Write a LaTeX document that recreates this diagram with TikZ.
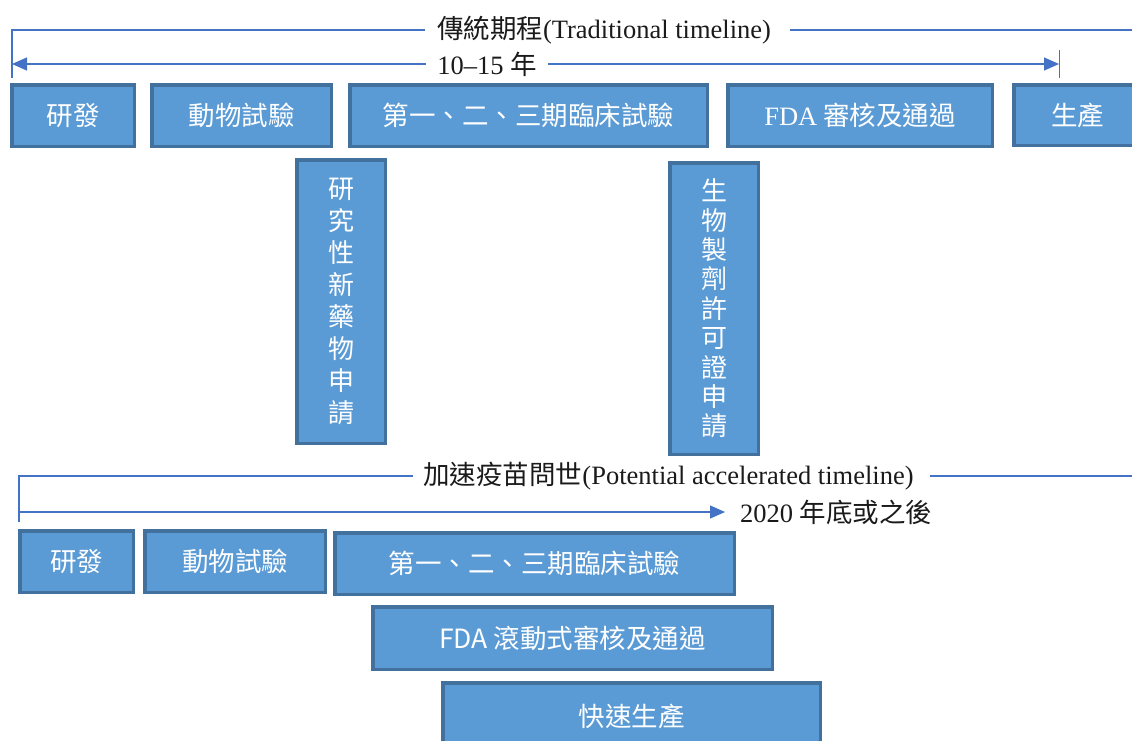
\documentclass[tikz,border=0pt]{standalone}
\usepackage{fontspec}
\setmainfont{Liberation Serif}
\newfontfamily\cjk{Noto Sans CJK TC}
\usetikzlibrary{arrows.meta}
\definecolor{boxfill}{HTML}{5B9BD5}
\definecolor{boxedge}{HTML}{41719C}
\definecolor{tline}{HTML}{4472C4}
\definecolor{ink}{HTML}{1A1A1A}
\tikzset{
  stagebox/.style={draw=boxedge, fill=boxfill, line width=3.5pt, text=white,
    inner sep=0pt, font=\cjk\fontsize{26.5}{30}\selectfont},
  tl/.style={draw=tline, line width=1.3pt},
  tip/.style={-{Triangle[length=15pt,width=13pt]}},
  labeltext/.style={font=\fontsize{26.5}{30}\selectfont, text=ink, inner ysep=0pt},
}
\begin{document}
\begin{tikzpicture}[x=1pt,y=-1pt]
\useasboundingbox (0,0) rectangle (1132,740);
\clip (0,0) rectangle (1132,740);

% ---- traditional timeline ----
\node[labeltext, inner xsep=12pt] (trad) at (604,30) {{\cjk 傳統期程}(Traditional timeline)};
\node[labeltext, inner xsep=11pt] (yrs) at (487,64) {10–15 {\cjk 年}};
\coordinate (tTop) at (12,30);
\coordinate (tBot) at (12,78);
\coordinate (tRight) at (1140,30);
\coordinate (aL) at (12,64);
\coordinate (aR) at (1059,64);
\coordinate (tickT) at (1059,50);
\coordinate (tickB) at (1059,78);
\draw[tl] (tBot) -- (tTop) -- (trad.west);
\draw[tl] ([xshift=7pt]trad.east) -- (tRight);
\draw[tl, tip] (yrs.west) -- (aL);
\draw[tl, tip] (yrs.east) -- (aR);
\draw[tl, line width=1pt] (tickT) -- (tickB);

% ---- top boxes ----
\node[stagebox, minimum width=122.5pt, minimum height=61.5pt] (rd1) at (73,115.5) {研發};
\node[stagebox, minimum width=179.5pt, minimum height=61.5pt] (an1) at (241.5,115.5) {動物試驗};
\node[stagebox, minimum width=357.5pt, minimum height=61.5pt] (cl1) at (528.5,115.5) {第一、二、三期臨床試驗};
\node[stagebox, minimum width=264.5pt, minimum height=61.5pt] (fda1) at (860,115.5) {{\rmfamily FDA} 審核及通過};
\node[stagebox, minimum width=127.5pt, minimum height=60.5pt] (pr1) at (1077.5,115) {生產};

% ---- vertical boxes ----
\node[stagebox, minimum width=88.5pt, minimum height=283.5pt, align=center,
  font=\cjk\fontsize{26}{31.9}\selectfont] (ind) at (341,301.5)
  {研\\究\\性\\新\\藥\\物\\申\\請};
\node[stagebox, minimum width=88.5pt, minimum height=291.5pt, align=center,
  font=\cjk\fontsize{26}{29.4}\selectfont] (bla) at (714,308.5)
  {生\\物\\製\\劑\\許\\可\\證\\申\\請};

% ---- accelerated timeline ----
\node[labeltext, inner xsep=10pt] (acc) at (668.5,476) {{\cjk 加速疫苗問世}(Potential accelerated timeline)};
\coordinate (bTop) at (19,476);
\coordinate (bBot) at (19,522);
\coordinate (bRight) at (1140,476);
\coordinate (bL) at (19,512);
\coordinate (bR) at (725,512);
\draw[tl] (bBot) -- (bTop) -- (acc.west);
\draw[tl] ([xshift=6pt]acc.east) -- (bRight);
\draw[tl, tip] (bL) -- (bR);
\node[labeltext, anchor=west, inner xsep=0pt] (end) at (740,512) {2020 {\cjk 年底或之後}};

% ---- bottom boxes ----
\node[stagebox, minimum width=113.5pt, minimum height=61.5pt] (rd2) at (76.5,561.5) {研發};
\node[stagebox, minimum width=180.5pt, minimum height=61.5pt] (an2) at (235,561.5) {動物試驗};
\node[stagebox, minimum width=399.5pt, minimum height=61.5pt] (cl2) at (534.5,563.5) {第一、二、三期臨床試驗};
\node[stagebox, minimum width=399.5pt, minimum height=62.5pt] (fda2) at (572.5,638) {FDA 滾動式審核及通過};
\node[stagebox, minimum width=377.5pt, minimum height=66.5pt] (fp) at (631.5,716) {快速生產};
\end{tikzpicture}
\end{document}
